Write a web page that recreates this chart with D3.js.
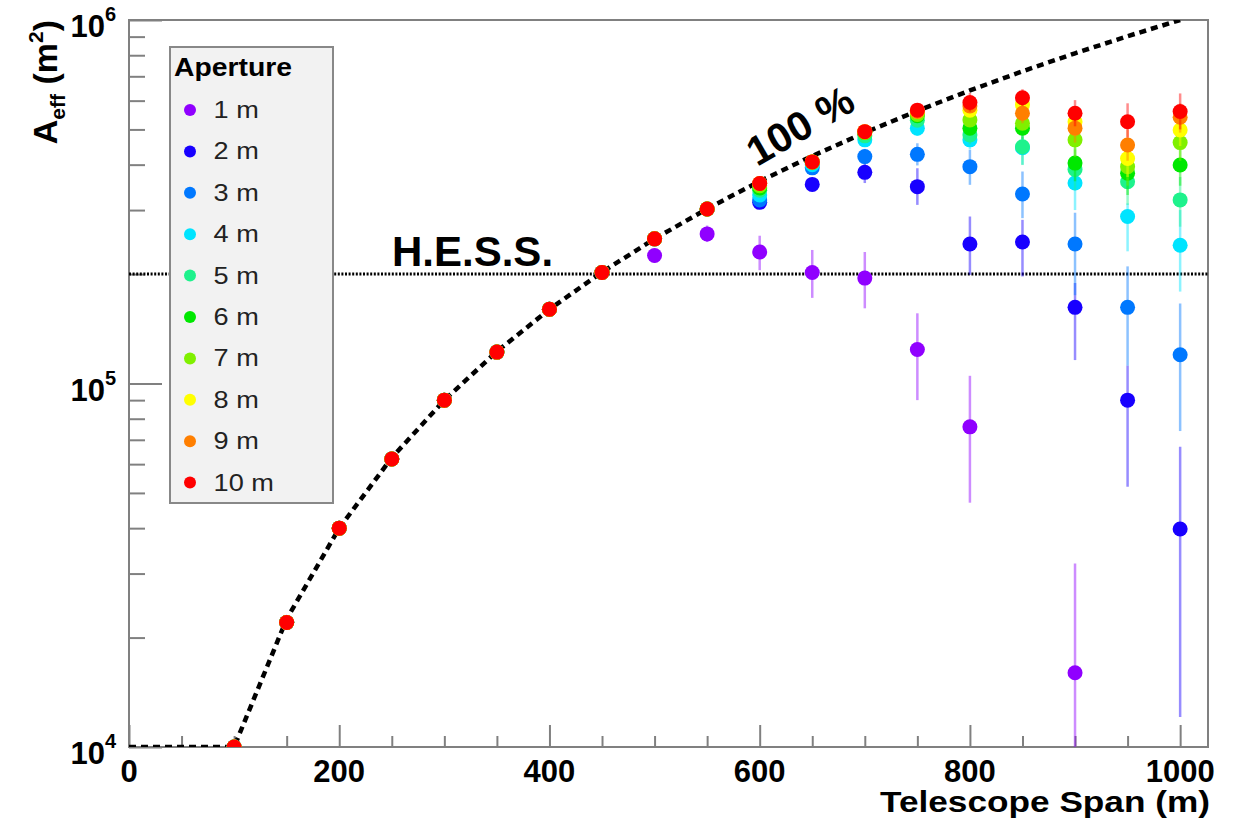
<!DOCTYPE html>
<html>
<head>
<meta charset="utf-8">
<script src="https://cdn.jsdelivr.net/npm/d3@7"></script>
<style>
  body { margin: 0; background: #fff; }
  text { font-family: "Liberation Sans", Arial, Helvetica, sans-serif; }
</style>
</head>
<body>
<div id="chart"></div>
<script>
// telescope span (m) of every measured point
var spans = [100, 150, 200, 250, 300, 350, 400, 450, 500, 550, 600, 650, 700, 750, 800, 850, 900, 950, 1000];

var apertures = ['1 m', '2 m', '3 m', '4 m', '5 m', '6 m', '7 m', '8 m', '9 m', '10 m'];
var colors = ['#9000ff', '#1800ff', '#0078ff', '#00e4ff', '#1ef28c', '#00e800', '#80f000', '#ffff00', '#ff7f00', '#ff0000'];

// effective area (m^2), one array per aperture, null = no point
var aeff1m  = [1e4, 2.2e4, 4e4, 6.2e4, 9e4, 1.22e5, 1.6e5, 2.02e5, 2.25e5, 2.58e5, 2.30e5, 2.02e5, 1.95e5, 1.24e5, 7.6e4, null, 1.6e4, null, null];
var aeff2m  = [1e4, 2.2e4, 4e4, 6.2e4, 9e4, 1.22e5, 1.6e5, 2.02e5, 2.5e5, 3.02e5, 3.15e5, 3.53e5, 3.81e5, 3.48e5, 2.42e5, 2.45e5, 1.62e5, 9.0e4, 3.98e4];
var aeff3m  = [1e4, 2.2e4, 4e4, 6.2e4, 9e4, 1.22e5, 1.6e5, 2.02e5, 2.5e5, 3.02e5, 3.2e5, 3.92e5, 4.21e5, 4.27e5, 3.95e5, 3.32e5, 2.42e5, 1.62e5, 1.20e5];
var aeff4m  = [1e4, 2.2e4, 4e4, 6.2e4, 9e4, 1.22e5, 1.6e5, 2.02e5, 2.5e5, 3.02e5, 3.3e5, 4.0e5, 4.68e5, 5.04e5, 4.68e5, 4.45e5, 3.56e5, 2.88e5, 2.40e5];
var aeff5m  = [1e4, 2.2e4, 4e4, 6.2e4, 9e4, 1.22e5, 1.6e5, 2.02e5, 2.5e5, 3.02e5, 3.4e5, 4.05e5, 4.8e5, 5.3e5, 4.83e5, 4.48e5, 3.88e5, 3.59e5, 3.2e5];
var aeff6m  = [1e4, 2.2e4, 4e4, 6.2e4, 9e4, 1.22e5, 1.6e5, 2.02e5, 2.5e5, 3.02e5, 3.45e5, 4.07e5, 4.9e5, 5.45e5, 5.04e5, 5.04e5, 4.04e5, 3.79e5, 3.99e5];
var aeff7m  = [1e4, 2.2e4, 4e4, 6.2e4, 9e4, 1.22e5, 1.6e5, 2.02e5, 2.5e5, 3.02e5, 3.5e5, 4.07e5, 4.9e5, 5.5e5, 5.31e5, 5.2e5, 4.68e5, 3.95e5, 4.6e5];
var aeff8m  = [1e4, 2.2e4, 4e4, 6.2e4, 9e4, 1.22e5, 1.6e5, 2.02e5, 2.5e5, 3.02e5, 3.55e5, 4.07e5, 4.93e5, 5.6e5, 5.65e5, 5.85e5, 5.25e5, 4.16e5, 4.98e5];
var aeff9m  = [1e4, 2.2e4, 4e4, 6.2e4, 9e4, 1.22e5, 1.6e5, 2.02e5, 2.5e5, 3.02e5, 3.55e5, 4.07e5, 4.93e5, 5.6e5, 5.8e5, 5.54e5, 5.04e5, 4.53e5, 5.4e5];
var aeff10m = [1e4, 2.2e4, 4e4, 6.2e4, 9e4, 1.22e5, 1.6e5, 2.02e5, 2.5e5, 3.02e5, 3.55e5, 4.07e5, 4.93e5, 5.65e5, 5.93e5, 6.11e5, 5.54e5, 5.25e5, 5.6e5];

// error bar ends [low, high] (m^2), null = bar hidden by the marker
var bars1m  = [null, null, null, null, null, null, null, null, [2.15e5, 2.35e5], [2.45e5, 2.72e5], [2.05e5, 2.55e5], [1.72e5, 2.33e5], [1.61e5, 2.30e5], [9.0e4, 1.56e5], [4.7e4, 1.05e5], null, [5e3, 3.2e4], null, null];
var bars2m  = [null, null, null, null, null, null, null, null, null, null, [3.05e5, 3.25e5], [3.4e5, 3.66e5], [3.56e5, 4.05e5], [3.10e5, 3.91e5], [1.99e5, 2.88e5], [1.97e5, 2.82e5], [1.16e5, 1.89e5], [5.2e4, 1.12e5], [1.21e4, 6.7e4]];
var bars3m  = [null, null, null, null, null, null, null, null, null, null, null, null, [4.0e5, 4.42e5], [3.98e5, 4.58e5], [3.52e5, 4.39e5], [2.85e5, 3.83e5], [1.75e5, 2.95e5], [1.12e5, 2.10e5], [7.4e4, 1.66e5]];
var bars4m  = [null, null, null, null, null, null, null, null, null, null, null, null, null, [4.8e5, 5.3e5], [4.4e5, 4.95e5], [4.0e5, 4.9e5], [3.0e5, 4.1e5], [2.31e5, 3.13e5], [1.79e5, 3.0e5]];
var bars5m  = [null, null, null, null, null, null, null, null, null, null, null, null, null, null, [4.55e5, 5.1e5], [3.99e5, 4.78e5], [3.4e5, 4.4e5], [3.1e5, 4.1e5], [2.7e5, 3.7e5]];
var bars6m  = [null, null, null, null, null, null, null, null, null, null, null, null, null, null, null, [4.7e5, 5.4e5], [3.6e5, 4.5e5], [3.3e5, 4.3e5], [3.5e5, 4.5e5]];
var bars7m  = [null, null, null, null, null, null, null, null, null, null, null, null, null, null, null, null, [4.2e5, 5.1e5], [3.5e5, 4.4e5], [4.1e5, 5.1e5]];
var bars8m  = [null, null, null, null, null, null, null, null, null, null, null, null, null, null, null, null, [4.8e5, 5.7e5], [3.7e5, 4.6e5], [4.5e5, 5.5e5]];
var bars9m  = [null, null, null, null, null, null, null, null, null, null, null, null, null, null, null, [5.2e5, 5.9e5], [4.6e5, 5.5e5], [4.1e5, 5.0e5], [4.9e5, 5.9e5]];
var bars10m = [null, null, null, null, null, null, null, null, null, null, null, null, null, null, [5.6e5, 6.3e5], [5.8e5, 6.45e5], [5.1e5, 6.02e5], [4.75e5, 5.9e5], [5.0e5, 6.28e5]];

// 100 % line and the H.E.S.S. level
var curveSpan = [0, 50, 100, 150, 200, 250, 300, 350, 400, 450, 500, 550, 600, 650, 700, 750, 800, 850, 900, 950, 1000];
var curveArea = [1e4, 1e4, 1e4, 2.25e4, 4e4, 6.25e4, 9e4, 1.225e5, 1.6e5, 2.025e5, 2.5e5, 3.025e5, 3.6e5, 4.225e5, 4.9e5, 5.625e5, 6.4e5, 7.225e5, 8.1e5, 9.025e5, 1e6];
var hessArea = 2e5;

var xMajor = [0, 200, 400, 600, 800, 1000];
var yMajor = [1e4, 1e5, 1e6];
var yExp = [4, 5, 6];

var aeffAll = [aeff1m, aeff2m, aeff3m, aeff4m, aeff5m, aeff6m, aeff7m, aeff8m, aeff9m, aeff10m];
var barsAll = [bars1m, bars2m, bars3m, bars4m, bars5m, bars6m, bars7m, bars8m, bars9m, bars10m];

var margin = { left: 129, right: 31, top: 20, bottom: 81 };
var width = 1239 - margin.left - margin.right,
    height = 828 - margin.top - margin.bottom;

var svg = d3.select('#chart')
    .append('svg')
    .attr('width', 1239)
    .attr('height', 828);

var g = svg.append('g')
    .attr('transform', 'translate(' + margin.left + ',' + margin.top + ')');

var x = d3.scaleLinear().domain([0, 1026.5]).range([0, width]);
var y = d3.scaleLog().domain([1e4, 1e6]).range([height, 0]);

g.append('clipPath').attr('id', 'plot-clip')
    .append('rect').attr('width', width).attr('height', height);

// ticks (drawn inside the frame, ROOT style)
var minorX = d3.range(0, 1026, 50).filter(function (d) { return d % 200 !== 0; });
var minorY = [];
[1e4, 1e5].forEach(function (dec) {
    for (var k = 2; k <= 9; k++) minorY.push(k * dec);
});

function styleAxis(sel) {
    sel.select('.domain').remove();
    sel.selectAll('line').attr('stroke', '#808080').attr('stroke-width', 2);
}

g.append('g').attr('transform', 'translate(0,' + height + ')')
    .call(d3.axisBottom(x).tickValues(xMajor).tickSize(-22).tickFormat(''))
    .call(styleAxis);
g.append('g').attr('transform', 'translate(0,' + height + ')')
    .call(d3.axisBottom(x).tickValues(minorX).tickSize(-11).tickFormat(''))
    .call(styleAxis);
g.append('g')
    .call(d3.axisLeft(y).tickValues(yMajor).tickSize(-33).tickFormat(''))
    .call(styleAxis);
g.append('g')
    .call(d3.axisLeft(y).tickValues(minorY).tickSize(-16).tickFormat(''))
    .call(styleAxis);

// frame
g.append('rect')
    .attr('width', width)
    .attr('height', height)
    .attr('fill', 'none')
    .attr('stroke', '#808080')
    .attr('stroke-width', 2);

// tick labels
g.selectAll('.xlab')
    .data(xMajor)
    .enter().append('text')
    .attr('x', function (d) { return x(d); })
    .attr('y', height + 35)
    .attr('text-anchor', 'middle')
    .attr('font-size', '31px')
    .attr('font-weight', 'bold')
    .text(function (d) { return d; });

var ylab = g.selectAll('.ylab')
    .data(yMajor)
    .enter().append('text')
    .attr('x', -13)
    .attr('y', function (d) { return y(d) + 17; })
    .attr('text-anchor', 'end')
    .attr('font-weight', 'bold');
ylab.append('tspan').attr('font-size', '31px').text('10');
ylab.append('tspan').attr('font-size', '20px').attr('dy', -16)
    .text(function (d, i) { return yExp[i]; });

// axis titles
svg.append('text')
    .attr('x', 1210)
    .attr('y', 812)
    .attr('text-anchor', 'end')
    .attr('font-size', '29px')
    .attr('font-weight', 'bold')
    .attr('textLength', 330)
    .attr('lengthAdjust', 'spacingAndGlyphs')
    .text('Telescope Span (m)');

var ytitle = svg.append('text')
    .attr('transform', 'translate(57,20) rotate(-90)')
    .attr('text-anchor', 'end')
    .attr('font-size', '34px')
    .attr('font-weight', 'bold');
ytitle.append('tspan').text('A');
ytitle.append('tspan').attr('font-size', '21px').attr('dy', 8).text('eff');
ytitle.append('tspan').attr('dy', -8).text(' (m');
ytitle.append('tspan').attr('font-size', '21px').attr('dy', -14).text('2');
ytitle.append('tspan').attr('dy', 14).text(')');

// lines
var plot = g.append('g').attr('clip-path', 'url(#plot-clip)');

plot.append('line')
    .attr('x1', 0).attr('x2', width)
    .attr('y1', y(hessArea)).attr('y2', y(hessArea))
    .attr('stroke', '#000')
    .attr('stroke-width', 3)
    .attr('stroke-dasharray', '2,1.6');

var line = d3.line()
    .x(function (d, i) { return x(curveSpan[i]); })
    .y(function (d) { return y(d); });

plot.append('path')
    .datum(curveArea)
    .attr('d', line)
    .attr('fill', 'none')
    .attr('stroke', '#000')
    .attr('stroke-width', 4.5)
    .attr('stroke-dasharray', '7,5');

// points with error bars, 1 m first so 10 m lands on top
aeffAll.forEach(function (vals, a) {
    var pts = spans.map(function (s, i) {
        return { span: s, v: vals[i], bar: barsAll[a][i] };
    }).filter(function (d) { return d.v !== null; });

    var grp = plot.append('g');
    grp.selectAll('line')
        .data(pts.filter(function (d) { return d.bar; }))
        .enter().append('line')
        .attr('x1', function (d) { return x(d.span); })
        .attr('x2', function (d) { return x(d.span); })
        .attr('y1', function (d) { return y(d.bar[0]); })
        .attr('y2', function (d) { return y(d.bar[1]); })
        .attr('stroke', colors[a])
        .attr('stroke-opacity', 0.45)
        .attr('stroke-width', 2.5);
    grp.selectAll('circle')
        .data(pts)
        .enter().append('circle')
        .attr('cx', function (d) { return x(d.span); })
        .attr('cy', function (d) { return y(d.v); })
        .attr('r', 7.5)
        .attr('fill', colors[a]);
});

// annotations
svg.append('text')
    .attr('x', 392)
    .attr('y', 266)
    .attr('font-size', '42px')
    .attr('font-weight', 'bold')
    .text('H.E.S.S.');

svg.append('text')
    .attr('transform', 'translate(757,167) rotate(-30)')
    .attr('font-size', '41px')
    .attr('font-weight', 'bold')
    .text('100 %');

// legend
var legend = svg.append('g');
legend.append('rect')
    .attr('x', 170).attr('y', 47)
    .attr('width', 163).attr('height', 456)
    .attr('fill', '#f2f2f2')
    .attr('stroke', '#888')
    .attr('stroke-width', 2);
legend.append('text')
    .attr('x', 174).attr('y', 76)
    .attr('font-size', '25px')
    .attr('font-weight', 'bold')
    .attr('textLength', 118)
    .attr('lengthAdjust', 'spacingAndGlyphs')
    .text('Aperture');

var entry = legend.selectAll('.entry')
    .data(apertures)
    .enter().append('g')
    .attr('transform', function (d, i) { return 'translate(190,' + (110 + i * 41.4) + ')'; });
entry.append('circle')
    .attr('r', 6)
    .attr('fill', function (d, i) { return colors[i]; });
entry.append('text')
    .attr('x', 20)
    .attr('y', 8)
    .attr('font-size', '23px')
    .attr('fill', '#222')
    .attr('transform', 'scale(1.18,1)')
    .text(function (d) { return d; });
</script>
</body>
</html>
